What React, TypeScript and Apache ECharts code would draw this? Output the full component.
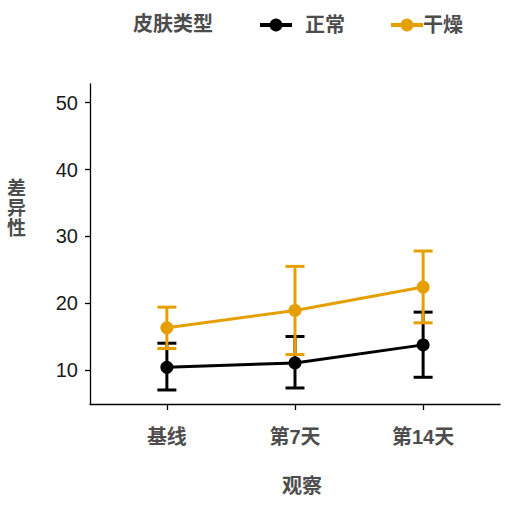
import React, { useEffect, useRef } from 'react';
import * as echarts from 'echarts';

// 观察时间点
const categories = ['基线', '第7天', '第14天'];
// 皮肤类型
const groups = ['正常', '干燥'];
const groupColors = ['#000000', '#E69F00'];
// 均值与误差线（下限 / 上限）
const normalMean = [10.4, 11.05, 13.75];
const normalLow = [7.0, 7.3, 8.9];
const normalHigh = [14.0, 15.0, 18.65];
const dryMean = [16.3, 18.9, 22.4];
const dryLow = [13.2, 12.3, 17.05];
const dryHigh = [19.4, 25.5, 27.8];
const yTicks = [10, 20, 30, 40, 50];

const FONT = '"Liberation Sans", "Noto Sans CJK SC", sans-serif';
const TEXT_GREY = '#4d4d4d';

const App = () => {
  const chartRef = useRef<HTMLDivElement>(null);

  useEffect(() => {
    const chart = echarts.init(chartRef.current, null, { renderer: 'svg' });

    const means = [normalMean, dryMean];
    const lows = [normalLow, dryLow];
    const highs = [normalHigh, dryHigh];

    const errorSeries = groups.map((g, k) => ({
      type: 'custom',
      name: g + '误差',
      z: 2,
      silent: true,
      encode: { x: 0, y: [1, 2] },
      data: categories.map((c, i) => [i + 1, lows[k][i], highs[k][i]]),
      renderItem: (params: any, api: any) => {
        const x = api.value(0);
        const lo = api.coord([x, api.value(1)]);
        const hi = api.coord([x, api.value(2)]);
        const hw = 9.5;
        const style = { stroke: groupColors[k], lineWidth: 3 };
        return {
          type: 'group',
          children: [
            { type: 'line', shape: { x1: lo[0], y1: lo[1], x2: hi[0], y2: hi[1] }, style },
            { type: 'line', shape: { x1: lo[0] - hw, y1: lo[1], x2: lo[0] + hw, y2: lo[1] }, style },
            { type: 'line', shape: { x1: hi[0] - hw, y1: hi[1], x2: hi[0] + hw, y2: hi[1] }, style },
          ],
        };
      },
    }));

    const lineSeries = groups.map((g, k) => ({
      type: 'line',
      name: g,
      z: 3,
      data: categories.map((c, i) => [i + 1, means[k][i]]),
      symbol: 'circle',
      symbolSize: 13,
      color: groupColors[k],
      itemStyle: { color: groupColors[k] },
      lineStyle: { color: groupColors[k], width: 3 },
    }));

    const legendText = { fontSize: 20, fontWeight: 'bold', color: TEXT_GREY, fontFamily: FONT };

    chart.setOption({
      animation: false,
      textStyle: { fontFamily: FONT },
      grid: { left: 90, right: 15, top: 84, bottom: 104 },
      legend: [
        {
          left: 253,
          top: 10,
          data: ['正常'],
          itemWidth: 32,
          itemHeight: 16,
          lineStyle: { width: 4 },
          textStyle: { ...legendText, padding: [0, 0, 0, 8] },
        },
        {
          left: 384,
          top: 10,
          data: ['干燥'],
          itemWidth: 32,
          itemHeight: 16,
          lineStyle: { width: 4 },
          textStyle: { ...legendText, padding: [0, 0, 0, -5] },
        },
      ],
      xAxis: {
        type: 'value',
        min: 0.4,
        max: 3.6,
        splitLine: { show: false },
        axisLine: { show: true, lineStyle: { color: '#000', width: 1.3 } },
        axisTick: { show: true, length: 6, customValues: [1, 2, 3], lineStyle: { color: '#000', width: 1.3 } },
        axisLabel: {
          customValues: [1, 2, 3],
          margin: 23,
          fontSize: 20,
          fontWeight: 'bold',
          color: TEXT_GREY,
          fontFamily: FONT,
          formatter: (v: number) => categories[Math.round(v) - 1] ?? '',
        },
      },
      yAxis: {
        type: 'value',
        min: 4.9,
        max: 52.8,
        splitLine: { show: false },
        axisLine: { show: true, lineStyle: { color: '#000', width: 1.3 } },
        axisTick: { show: true, length: 5, customValues: yTicks, lineStyle: { color: '#000', width: 1.3 } },
        axisLabel: {
          customValues: yTicks,
          margin: 12,
          fontSize: 20,
          color: '#1a1a1a',
          fontFamily: FONT,
        },
      },
      graphic: [
        {
          type: 'text',
          left: 133,
          top: 14,
          style: { text: '皮肤类型', fontSize: 20, fontWeight: 'bold', fill: TEXT_GREY, fontFamily: FONT },
        },
        {
          type: 'text',
          left: 282,
          top: 476,
          style: { text: '观察', fontSize: 20, fontWeight: 'bold', fill: TEXT_GREY, fontFamily: FONT },
        },
        {
          type: 'text',
          left: 7,
          top: 178,
          style: { text: '差\n异\n性', fontSize: 19, lineHeight: 20, fontWeight: 'bold', fill: TEXT_GREY, fontFamily: FONT },
        },
      ],
      series: [...errorSeries, ...lineSeries],
    });

    return () => {
      chart.dispose();
    };
  }, []);

  return (
    <div
      ref={chartRef}
      style={{ position: 'fixed', left: 0, top: 0, width: 515, height: 508, background: '#fff' }}
    />
  );
};

export default App;
